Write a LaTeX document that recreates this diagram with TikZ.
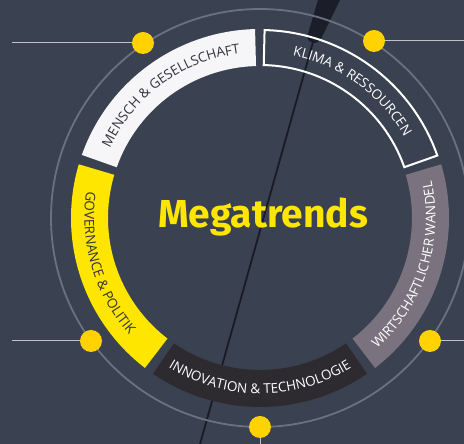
\documentclass[tikz,border=0pt]{standalone}
\usepackage{fontspec}
\setmainfont{Fira Sans}
\newfontfamily\titlefont{Fira Sans}
\newfontfamily\labelfont{Open Sans}
\usetikzlibrary{decorations.text}
\definecolor{bg}{RGB}{58,66,81}
\definecolor{ringline}{RGB}{105,114,128}
\definecolor{leader}{RGB}{190,194,200}
\definecolor{dotyellow}{RGB}{255,210,0}
\definecolor{segyellow}{RGB}{255,230,0}
\definecolor{seggray}{RGB}{122,115,127}
\definecolor{segdark}{RGB}{46,43,48}
\definecolor{segwhite}{RGB}{246,246,248}
\definecolor{labeldark}{RGB}{50,50,58}
\definecolor{pen}{RGB}{24,27,36}
\tikzset{
  dotnode/.style={circle, fill=dotyellow, minimum size=22pt, inner sep=0pt},
  leaderline/.style={draw=leader, line width=1pt},
  outerring/.style={draw=ringline, line width=1.8pt},
  lbl/.style={decorate, decoration={text along path, text align=center, text={#1}}}
}
\newcommand\lblfont{\labelfont\fontsize{13.5}{15}\selectfont}
\begin{document}
\begin{tikzpicture}[x=1pt,y=1pt]
\fill[bg] (0,0) rectangle (464,444);
\useasboundingbox (0,0) rectangle (464,444);
\coordinate (c) at (260,226);
% pen / cable
\fill[pen, opacity=0.9] (318,444) -- (340,444) -- (322,407) .. controls (319,399) and (309,399) .. (307,407) -- cycle;
\coordinate (penA) at (313,402);
\coordinate (penB) at (200,0);
\draw[pen, line width=1.8pt] (penA) -- (penB);
% outer circle
\draw[outerring] (c) circle[radius=209];
\begin{scope}[shift={(c)}]
  % Mensch & Gesellschaft
  \fill[segwhite] (160.5:189) arc[start angle=160.5, end angle=91.5, radius=189] -- (91.5:152) arc[start angle=91.5, end angle=160.5, radius=152] -- cycle;
  % Klima & Ressourcen (outlined)
  \draw[white, line width=2pt] (88.6:188) arc[start angle=88.6, end angle=19.4, radius=188] -- (19.4:153) arc[start angle=19.4, end angle=88.6, radius=153] -- cycle;
  % Wirtschaftlicher Wandel
  \fill[seggray] (16.5:189) arc[start angle=16.5, end angle=-52.5, radius=189] -- (-52.5:152) arc[start angle=-52.5, end angle=16.5, radius=152] -- cycle;
  % Innovation & Technologie
  \fill[segdark] (-55.5:189) arc[start angle=-55.5, end angle=-124.5, radius=189] -- (-124.5:152) arc[start angle=-124.5, end angle=-55.5, radius=152] -- cycle;
  % Governance & Politik
  \fill[segyellow] (-127.5:189) arc[start angle=-127.5, end angle=-196.5, radius=189] -- (-196.5:152) arc[start angle=-196.5, end angle=-127.5, radius=152] -- cycle;
  % labels
  \path[lbl={|\lblfont\color{labeldark}|MENSCH {\&} GESELLSCHAFT}] (160.5:165.5) arc[start angle=160.5, end angle=91.5, radius=165.5];
  \path[lbl={|\lblfont\color{white}|KLIMA {\&} RESSOURCEN}] (88.5:165.5) arc[start angle=88.5, end angle=19.5, radius=165.5];
  \path[lbl={|\lblfont\color{white}|WIRTSCHAFTLICHER WANDEL}] (-52.5:175.5) arc[start angle=-52.5, end angle=16.5, radius=175.5];
  \path[lbl={|\lblfont\color{white}|INNOVATION {\&} TECHNOLOGIE}] (-124.5:175.5) arc[start angle=-124.5, end angle=-55.5, radius=175.5];
  \path[lbl={|\lblfont\color{labeldark}|GOVERNANCE {\&} POLITIK}] (160.5:175.5) arc[start angle=160.5, end angle=232.5, radius=175.5];
\end{scope}
% title
\node[anchor=base, text=segyellow, font=\titlefont\bfseries\fontsize{39}{41}\selectfont, inner sep=0pt] (title) at (263,216) {Megatrends};
% dots and leaders
\node[dotnode] (d1) at (143,401) {};
\node[dotnode] (d2) at (374,403) {};
\node[dotnode] (d3) at (91,103) {};
\node[dotnode] (d4) at (430,103) {};
\node[dotnode] (d5) at (260,17) {};
\coordinate (e1) at (12,401);
\coordinate (e2) at (464,403);
\coordinate (e3) at (12,103);
\coordinate (e4) at (464,103);
\coordinate (e5) at (260,0);
\draw[leaderline] (e1) -- (d1.west);
\draw[leaderline] (d2.east) -- (e2);
\draw[leaderline] (e3) -- (d3.west);
\draw[leaderline] (d4.east) -- (e4);
\draw[leaderline] (d5.south) -- (e5);
\end{tikzpicture}
\end{document}
